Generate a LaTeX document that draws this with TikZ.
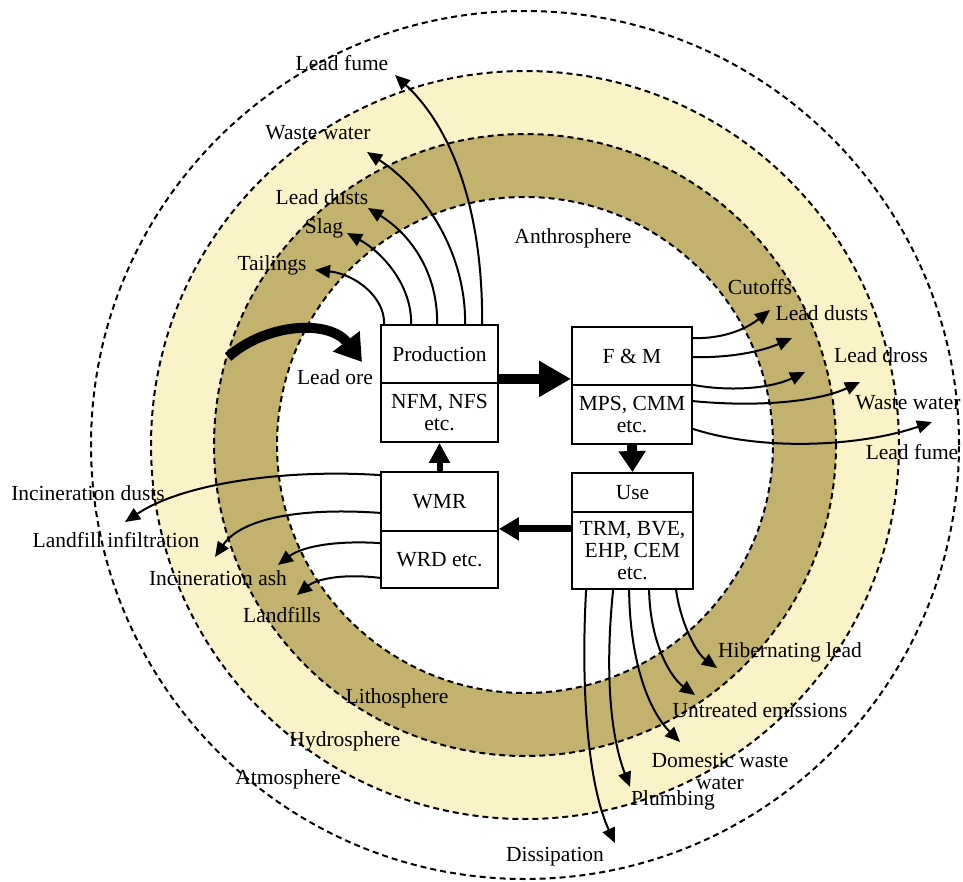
\documentclass[tikz,border=0pt]{standalone}
\usepackage{fontspec}
\setmainfont{Liberation Serif}
\usetikzlibrary{arrows.meta,calc}
\definecolor{litho}{RGB}{195,177,110}
\definecolor{hydro}{RGB}{251,243,200}
\begin{document}
\begin{tikzpicture}[x=1pt,y=-1pt,
  lbl/.style={font=\fontsize{21.5}{22}\selectfont, inner sep=0pt, align=center},
  boxpart/.style={draw, line width=1.8pt, fill=white, minimum width=117pt, inner sep=0pt,
    font=\fontsize{21.5}{22}\selectfont, align=center},
  flow/.style={line width=2pt, -{Triangle[length=15pt,width=13pt]}},
  ring/.style={line width=2pt, dash pattern=on 6pt off 4pt}
]
\useasboundingbox (0,0) rectangle (963,882);
\coordinate (c) at (525,445);
% spheres
\fill[hydro] (c) circle[radius=374pt];
\fill[litho] (c) circle[radius=311pt];
\fill[white] (c) circle[radius=248pt];
\draw[ring] (c) circle[radius=248pt];
\draw[ring] (c) circle[radius=311pt];
\draw[ring] (c) circle[radius=374pt];
\draw[ring] (c) circle[radius=434pt];

% sphere labels
\node[lbl] (anthro) at (573,238) {Anthrosphere};
\node[lbl] (litholbl) at (397,698) {Lithosphere};
\node[lbl] (hydrolbl) at (345,741) {Hydrosphere};
\node[lbl] (atmolbl) at (288,779) {Atmosphere};

% boxes
\node[boxpart, minimum height=58pt] (prodT) at (439.5,354) {Production};
\node[boxpart, minimum height=59pt] (prodB) at (439.5,412.5) {NFM, NFS\\etc.};
\node[boxpart, minimum width=120pt, minimum height=58pt] (fmT) at (632,356) {F \& M};
\node[boxpart, minimum width=120pt, minimum height=59pt] (fmB) at (632,414.5) {MPS, CMM\\etc.};
\node[boxpart, minimum height=59pt] (wmrT) at (439.5,501.5) {WMR};
\node[boxpart, minimum height=57pt] (wmrB) at (439.5,559.5) {WRD etc.};
\node[boxpart, minimum width=121pt, minimum height=39pt] (useT) at (632.5,492.5) {Use};
\node[boxpart, minimum width=121pt, minimum height=77pt] (useB) at (632.5,550.5) {TRM, BVE,\\EHP, CEM\\etc.};

% thick main flows
\draw[line width=10pt, -{Triangle[length=32pt,width=34pt]}] ($(prodT.south east)+(0,-5)$) -- ($(fmT.south west)+(0,-7)$);
\draw[line width=10pt, -{Triangle[length=21pt,width=26pt]}] (fmB.south) -- (useT.north);
\draw[line width=7pt, -{Triangle[length=20pt,width=22pt]}] ($(useT.south west)+(0,16)$) -- ($(wmrT.south east)+(0,-3)$);
\draw[line width=6pt, -{Triangle[length=20pt,width=20pt]}] (wmrT.north) -- (prodB.south);

% lead ore
\node[lbl] (oreLbl) at (335,377) {Lead ore};
\coordinate (oreS) at (228,357);
\coordinate (oreE) at (362,362);
\draw[line width=10pt, -{Triangle[length=26pt,width=32pt]}] (oreS) .. controls (268,322) and (330,320) .. (oreE);

% production outputs
\node[lbl] (tail) at (272,265) {Tailings};
\node[lbl] (slag) at (324,228) {Slag};
\node[lbl] (pdust) at (322,197) {Lead dusts};
\node[lbl] (pwater) at (318,133) {Waste water};
\node[lbl] (pfume) at (342,63) {Lead fume};
\coordinate (tTail) at (315,270);
\coordinate (tSlag) at (347,233);
\coordinate (tPdust) at (368,208);
\coordinate (tPwater) at (367,152);
\coordinate (tPfume) at (395,75);
\draw[flow] ($(prodT.north west)+(4,0)$) .. controls (385,297) and (355,274) .. (tTail);
\draw[flow] ($(prodT.north west)+(31,0)$) .. controls (412,285) and (382,252) .. (tSlag);
\draw[flow] ($(prodT.north west)+(57,0)$) .. controls (438,272) and (410,234) .. (tPdust);
\draw[flow] ($(prodT.north west)+(85,0)$) .. controls (466,250) and (422,188) .. (tPwater);
\draw[flow] ($(prodT.north west)+(102,0)$) .. controls (483,210) and (452,128) .. (tPfume);

% F&M outputs
\node[lbl] (cutoffs) at (760,287) {Cutoffs};
\node[lbl] (fdust) at (822,313) {Lead dusts};
\node[lbl] (fdross) at (881,355) {Lead dross};
\node[lbl] (fwater) at (908,403) {Waste water};
\node[lbl] (ffume) at (912,452) {Lead fume};
\coordinate (tCut) at (770,310);
\coordinate (tFdust) at (792,338);
\coordinate (tFdross) at (805,372);
\coordinate (tFwater) at (860,382);
\coordinate (tFfume) at (932,422);
\draw[flow] ($(fmT.north east)+(0,12)$) .. controls (728,339) and (750,326) .. (tCut);
\draw[flow] ($(fmT.north east)+(0,31)$) .. controls (735,358) and (765,350) .. (tFdust);
\draw[flow] ($(fmT.south east)+(0,-1)$) .. controls (732,392) and (772,388) .. (tFdross);
\draw[flow] ($(fmB.north east)+(0,17)$) .. controls (765,408) and (822,400) .. (tFwater);
\draw[flow] ($(fmB.south east)+(0,-16)$) .. controls (765,452) and (862,446) .. (tFfume);

% WMR outputs
\node[lbl] (idust) at (88,493) {Incineration dusts};
\node[lbl] (linf) at (116,540) {Landfill infiltration};
\node[lbl] (iash) at (218,578) {Incineration ash};
\node[lbl] (lfill) at (282,615) {Landfills};
\coordinate (tIdust) at (125,522);
\coordinate (tLinf) at (215,557);
\coordinate (tIash) at (278,565);
\coordinate (tLfill) at (297,595);
\draw[flow] ($(wmrT.north west)+(0,4)$) .. controls (290,469) and (185,482) .. (tIdust);
\draw[flow] ($(wmrT.south west)+(0,-19)$) .. controls (295,507) and (240,520) .. (tLinf);
\draw[flow] ($(wmrB.north west)+(0,13)$) .. controls (330,540) and (300,548) .. (tIash);
\draw[flow] ($(wmrB.south west)+(0,-11)$) .. controls (340,573) and (315,580) .. (tLfill);

% Use outputs
\node[lbl] (dissip) at (555,857) {Dissipation};
\node[lbl] (plumb) at (673,800) {Plumbing};
\node[lbl] (dww) at (720,771) {Domestic waste\\water};
\node[lbl] (untr) at (760,710) {Untreated emissions};
\node[lbl] (hib) at (790,652) {Hibernating lead};
\coordinate (tDiss) at (615,843);
\coordinate (tPlumb) at (630,787);
\coordinate (tDww) at (680,742);
\coordinate (tUntr) at (695,695);
\coordinate (tHib) at (717,668);
\draw[flow] ($(useB.south west)+(15,0)$) .. controls (580,700) and (590,790) .. (tDiss);
\draw[flow] ($(useB.south west)+(42,0)$) .. controls (604,680) and (612,740) .. (tPlumb);
\draw[flow] ($(useB.south west)+(58,0)$) .. controls (630,665) and (650,712) .. (tDww);
\draw[flow] ($(useB.south west)+(78,0)$) .. controls (650,642) and (670,677) .. (tUntr);
\draw[flow] ($(useB.south west)+(105,0)$) .. controls (680,620) and (695,652) .. (tHib);
\end{tikzpicture}
\end{document}
